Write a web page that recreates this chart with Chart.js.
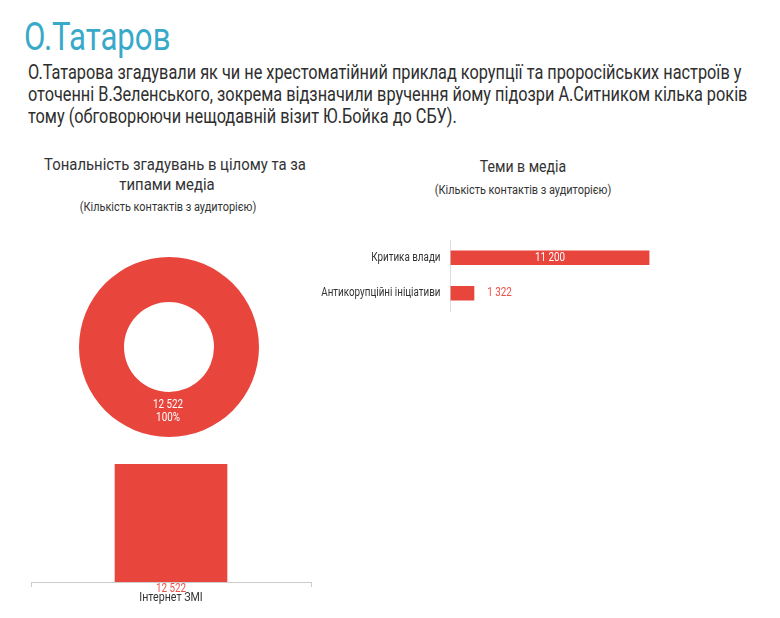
<!DOCTYPE html>
<html lang="uk"><head><meta charset="utf-8">
<script src="https://cdn.jsdelivr.net/npm/chart.js@4"></script>
<style>
html,body{margin:0;padding:0;background:#fff;width:780px;height:618px;overflow:hidden}
body{font-family:"Roboto",sans-serif;position:relative}
.t{position:absolute;white-space:nowrap;color:#333;transform-origin:0 50%}
.m{position:absolute;white-space:nowrap;color:#333}
canvas{position:absolute;display:block}
</style></head><body>
<div class="t" style="left:24px;top:15px;font-size:38px;line-height:44px;color:#38a9c9;transform:scaleX(.82)">О.Татаров</div>
<div class="t" style="left:28px;top:62px;font-size:19.5px;line-height:22px;color:#2e2e2e;transform:scaleX(.836)">О.Татарова згадували як чи не хрестоматійний приклад корупції та проросійських настроїв у<br>оточенні В.Зеленського, зокрема відзначили вручення йому підозри А.Ситником кілька років<br>тому (обговорюючи нещодавній візит Ю.Бойка до СБУ).</div>
<div class="m" style="left:174.5px;top:155px;font-size:16px;line-height:20px;transform:translateX(-50%) scaleX(.93)">Тональність згадувань в цілому та за</div>
<div class="m" style="left:167px;top:175px;font-size:16px;line-height:20px;transform:translateX(-50%) scaleX(.93)">типами медіа</div>
<div class="m" style="left:168px;top:199px;font-size:12px;line-height:16px;transform:translateX(-50%) scaleX(.91)">(Кількість контактів з аудиторією)</div>
<div class="m" style="left:523px;top:157px;font-size:16px;line-height:20px;transform:translateX(-50%) scaleX(.88)">Теми в медіа</div>
<div class="m" style="left:523px;top:182px;font-size:12px;line-height:16px;transform:translateX(-50%) scaleX(.91)">(Кількість контактів з аудиторією)</div>
<canvas id="donut" style="left:79px;top:257px;width:180px;height:180px"></canvas>
<canvas id="topics" style="left:300px;top:230px;width:370px;height:91px"></canvas>
<canvas id="media" style="left:20px;top:450px;width:300px;height:168px"></canvas>
<script>
const toneLabels = ["Негативна"];
const toneValues = [12522];
const tonePercents = ["100%"];
const topicLabels = ["Критика влади", "Антикорупційні ініціативи"];
const topicValues = [11200, 1322];
const mediaLabels = ["Інтернет ЗМІ"];
const mediaValues = [12522];

const RED = "#e8463d", LABEL_RED = "#ee5047", FONT = '"Roboto",sans-serif';
const fmt = v => String(v).replace(/\B(?=(\d{3})+$)/g, " ");
Chart.defaults.animation = false;
Chart.defaults.responsive = false;
Chart.defaults.plugins.legend.display = false;
Chart.defaults.plugins.tooltip.enabled = false;
Chart.defaults.font.family = FONT;

function size(id){const c=document.getElementById(id);c.width=parseInt(c.style.width);c.height=parseInt(c.style.height);return c;}
function text(ctx,s,x,y,color,px,align){ctx.save();ctx.translate(x,y);ctx.scale(.82,1);ctx.font=px+"px "+FONT;ctx.fillStyle=color;ctx.textAlign=align||"center";ctx.textBaseline="middle";ctx.fillText(s,0,0);ctx.restore();}

new Chart(size("donut"),{type:"doughnut",
 data:{labels:toneLabels,datasets:[{data:toneValues,backgroundColor:RED,borderWidth:0}]},
 options:{cutout:"50%",layout:{padding:0},maintainAspectRatio:false},
 plugins:[{id:"l",afterDatasetsDraw(ch){const p=ch.getDatasetMeta(0).data[0].tooltipPosition();
   text(ch.ctx,fmt(toneValues[0]),p.x-1,p.y-9.5,"#fff",12);text(ch.ctx,tonePercents[0],p.x-1,p.y+3.5,"#fff",12);}}]});

new Chart(size("topics"),{type:"bar",
 data:{labels:topicLabels,datasets:[{data:topicValues,backgroundColor:RED,barThickness:14}]},
 options:{indexAxis:"y",maintainAspectRatio:false,layout:{padding:{top:10,bottom:10,right:20.5,left:0}},
  scales:{x:{display:false,min:0,max:11200},
   y:{afterFit(s){s.width=150.5;},grid:{drawOnChartArea:false,drawTicks:false},border:{color:"#ddd"},
      ticks:{display:false}}}},
 plugins:[{id:"l",afterDatasetsDraw(ch){const sy=ch.scales.y;
   topicLabels.forEach((lab,i)=>text(ch.ctx,lab,sy.right-10,sy.getPixelForTick(i),"#333",12,"right"));
   ch.getDatasetMeta(0).data.forEach((b,i)=>{const big=i===0;
   text(ch.ctx,fmt(topicValues[i]),big?(b.x+b.base)/2:b.x+25.5,b.y,big?"#fff":LABEL_RED,12);});}}]});

new Chart(size("media"),{type:"bar",
 data:{labels:mediaLabels,datasets:[{data:mediaValues,backgroundColor:RED,barThickness:112}]},
 options:{maintainAspectRatio:false,layout:{padding:{top:14,left:11,right:9,bottom:0}},
  scales:{y:{display:false,min:0,max:12522},
   x:{afterFit(s){s.height=36;},grid:{drawOnChartArea:false,tickLength:5,color:"#ccc"},border:{color:"#ccc"},
      ticks:{display:false}}}},
 plugins:[{id:"l",afterDatasetsDraw(ch){const b=ch.getDatasetMeta(0).data[0],sx=ch.scales.x;
   text(ch.ctx,mediaLabels[0],sx.getPixelForTick(0),b.base+16,"#333",13);
   text(ch.ctx,fmt(mediaValues[0]),b.x,b.base+7,LABEL_RED,12);}}]});
</script>
</body></html>
